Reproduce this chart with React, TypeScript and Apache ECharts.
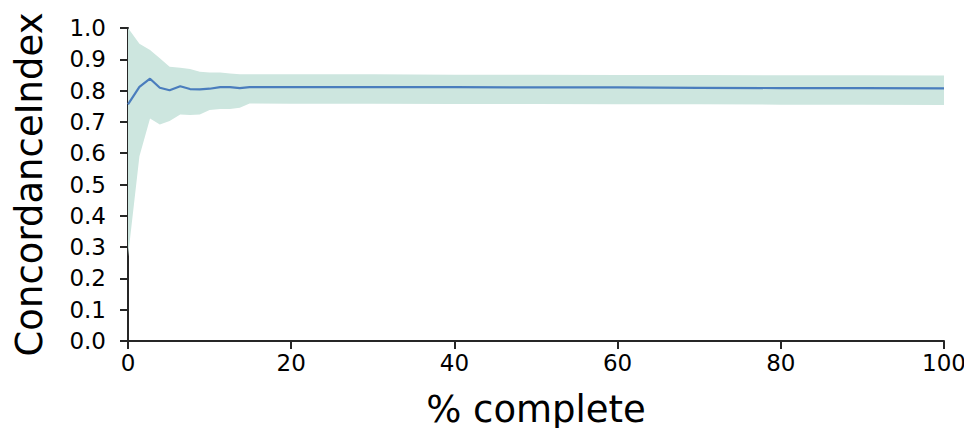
import React, { useEffect, useRef } from "react";
import * as echarts from "echarts";

const xs = [0, 1.4, 2.7, 3.9, 5.1, 6.4, 7.6, 8.8, 10, 11.3, 12.5, 13.7, 14.9, 20, 30, 40, 50, 60, 70, 80, 90, 100];
const meanVals = [0.756, 0.812, 0.838, 0.809, 0.801, 0.814, 0.805, 0.804, 0.806, 0.811, 0.811, 0.808, 0.811, 0.811, 0.811, 0.811, 0.81, 0.81, 0.809, 0.808, 0.808, 0.807];
const upperVals = [1.0, 0.95, 0.93, 0.903, 0.876, 0.873, 0.869, 0.86, 0.858, 0.858, 0.855, 0.852, 0.852, 0.852, 0.852, 0.851, 0.851, 0.85, 0.85, 0.849, 0.849, 0.848];
const lowerVals = [0.27, 0.59, 0.711, 0.692, 0.703, 0.724, 0.722, 0.724, 0.738, 0.741, 0.741, 0.745, 0.759, 0.758, 0.758, 0.757, 0.757, 0.756, 0.756, 0.755, 0.755, 0.754];
const xTicks = [0, 20, 40, 60, 80, 100];
const yTicks = [0, 0.1, 0.2, 0.3, 0.4, 0.5, 0.6, 0.7, 0.8, 0.9, 1.0];

const FONT = "DejaVu Sans";
const AXIS_COLOR = "#262626";

export default function App() {
  const ref = useRef<HTMLDivElement>(null);
  useEffect(() => {
    if (!ref.current) return;
    const chart = echarts.init(ref.current, undefined, { renderer: "svg" });
    const bandData = xs.map((x, i) => [x, lowerVals[i], upperVals[i]]);
    const lineData = xs.map((x, i) => [x, meanVals[i]]);
    chart.setOption({
      animation: false,
      grid: { left: 128, right: 28, top: 28, bottom: 95 },
      xAxis: {
        type: "value",
        min: xTicks[0],
        max: xTicks[xTicks.length - 1],
        interval: 20,
        name: "% complete",
        nameLocation: "middle",
        nameGap: 50,
        nameTextStyle: { fontFamily: FONT, fontSize: 37, color: "#000" },
        axisLine: { show: true, lineStyle: { color: AXIS_COLOR, width: 2 } },
        axisTick: { show: true, length: 8, inside: false, lineStyle: { color: AXIS_COLOR, width: 2 } },
        axisLabel: { fontFamily: FONT, fontSize: 23, color: "#000", margin: 10 },
        splitLine: { show: false },
      },
      yAxis: {
        type: "value",
        min: yTicks[0],
        max: yTicks[yTicks.length - 1],
        interval: 0.1,
        name: "ConcordanceIndex",
        nameLocation: "middle",
        nameGap: 80,
        nameTextStyle: { fontFamily: FONT, fontSize: 37, color: "#000" },
        axisLine: { show: true, lineStyle: { color: AXIS_COLOR, width: 2 } },
        axisTick: { show: true, length: 8, inside: false, lineStyle: { color: AXIS_COLOR, width: 2 } },
        axisLabel: {
          fontFamily: FONT,
          fontSize: 23,
          color: "#000",
          margin: 22,
          formatter: (v: number) => v.toFixed(1),
        },
        splitLine: { show: false },
      },
      series: [
        {
          type: "custom",
          data: bandData,
          silent: true,
          z: 1,
          renderItem: (params: any, api: any) => {
            if (params.dataIndex !== 0) return null;
            const upper = bandData.map((d) => api.coord([d[0], d[2]]));
            const lower = bandData.map((d) => api.coord([d[0], d[1]])).reverse();
            return {
              type: "polygon",
              shape: { points: upper.concat(lower) },
              style: { fill: "#cde6df", stroke: "none" },
            };
          },
          encode: { x: 0, y: [1, 2] },
        },
        {
          type: "line",
          data: lineData,
          z: 2,
          showSymbol: false,
          symbol: "none",
          lineStyle: { color: "#4a7dbd", width: 2.2 },
        },
      ],
    });
    return () => chart.dispose();
  }, []);
  return <div ref={ref} style={{ width: 972, height: 436, margin: -8 }} />;
}
